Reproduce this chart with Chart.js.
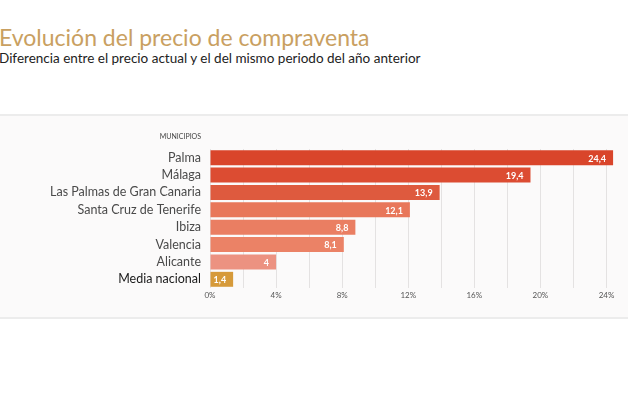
<!DOCTYPE html>
<html>
<head>
<meta charset="utf-8">
<script src="https://cdn.jsdelivr.net/npm/chart.js@4.4.0/dist/chart.umd.min.js"></script>
<style>
  body { margin: 0; background: #fff; font-family: Lato, sans-serif; }
  .titulo { position: absolute; left: -1px; top: 23px; margin: 0; font-size: 23px; font-weight: 400; color: #c9a061; white-space: nowrap; }
  .subtitulo { position: absolute; left: -1px; top: 50px; margin: 0; font-size: 13.5px; color: #222; white-space: nowrap; }
  .panel { position: absolute; left: 0; top: 114px; width: 628px; height: 201px; background: #fbfafa; border-top: 2px solid #ececec; border-bottom: 2px solid #ececec; }
</style>
</head>
<body>
<h1 class="titulo">Evolución del precio de compraventa</h1>
<p class="subtitulo">Diferencia entre el precio actual y el del mismo periodo del año anterior</p>
<div class="panel"><canvas id="grafico" width="628" height="201"></canvas></div>
<script>
// datos
const municipios = ['Palma', 'Málaga', 'Las Palmas de Gran Canaria', 'Santa Cruz de Tenerife', 'Ibiza', 'Valencia', 'Alicante', 'Media nacional'];
const variacion = [24.4, 19.4, 13.9, 12.1, 8.8, 8.1, 4, 1.4];
const colores = ['#d9452b', '#dc4c32', '#de5a3e', '#e8775a', '#ea7e62', '#eb8266', '#ec9281', '#d69a3a'];
const marcasEje = [0, 4, 8, 12, 16, 20, 24];

// etiquetas dentro de las barras + titulo del eje
const etiquetas = {
    id: 'etiquetas',
    afterDatasetsDraw(chart) {
        const ctx = chart.ctx;
        const meta = chart.getDatasetMeta(0);
        ctx.save();
        ctx.font = 'bold 9px Lato';
        ctx.fillStyle = '#fff';
        ctx.textAlign = 'right';
        ctx.textBaseline = 'middle';
        meta.data.forEach((bar, i) => {
            ctx.fillText(String(variacion[i]).replace('.', ','), bar.x - 7, bar.y + 1);
        });
        ctx.font = '7px Lato';
        ctx.fillStyle = '#444';
        ctx.fillText('MUNICIPIOS', chart.scales.y.right - 9, 21);
        ctx.restore();
    }
};

const ctx = document.getElementById('grafico').getContext('2d');
new Chart(ctx, {
    type: 'bar',
    data: {
        labels: municipios,
        datasets: [{
            data: variacion,
            backgroundColor: colores,
            borderWidth: 0,
            barPercentage: 0.86,
            categoryPercentage: 1
        }]
    },
    options: {
        indexAxis: 'y',
        responsive: false,
        animation: false,
        layout: { padding: { top: 33, right: 5, bottom: 15, left: 0 } },
        plugins: {
            legend: { display: false },
            tooltip: { enabled: false }
        },
        scales: {
            x: {
                min: 0,
                max: 25,
                afterBuildTicks: s => { s.ticks = [0, 2, 4, 6, 8, 10, 12, 14, 16, 18, 20, 22, 24].map(v => ({ value: v })); },
                afterFit: s => { s.height = 14; },
                grid: { color: '#e4e2e2', drawTicks: false },
                border: { display: false },
                ticks: {
                    padding: 3,
                    color: '#555',
                    font: { family: 'Lato', size: 8 },
                    callback: v => marcasEje.includes(v) ? v + '%' : ''
                }
            },
            y: {
                afterFit: s => { s.width = 210; },
                grid: { display: false, drawTicks: false },
                border: { display: false },
                ticks: {
                    autoSkip: false,
                    padding: 9,
                    font: { family: 'Lato', size: 12.5 },
                    color: c => c.index === 7 ? '#1a1a1a' : '#4a4a4a'
                }
            }
        }
    },
    plugins: [etiquetas]
});
</script>
</body>
</html>
